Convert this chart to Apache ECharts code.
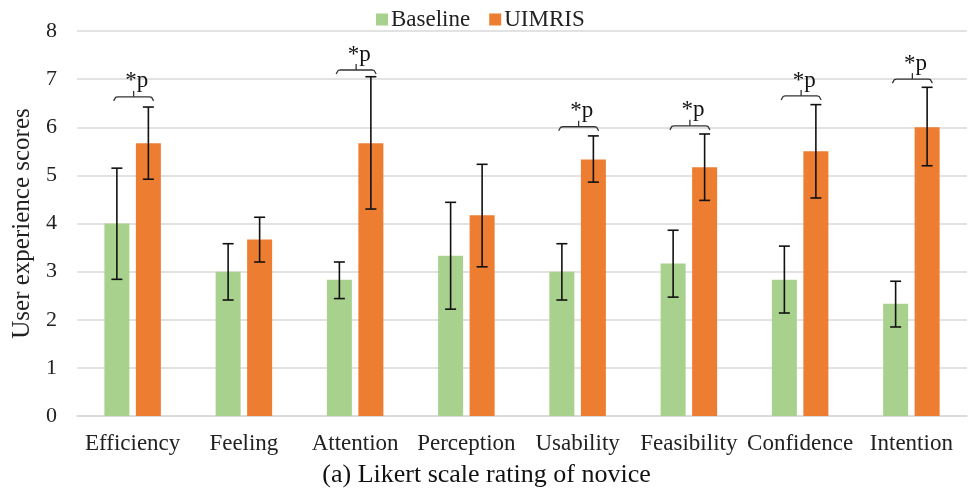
<!DOCTYPE html>
<html>
<head>
<meta charset="utf-8">
<script src="https://cdn.jsdelivr.net/npm/echarts@6/dist/echarts.min.js"></script>
<style>
html,body{margin:0;padding:0;background:#fff;}
#chart{width:973px;height:496px;}
</style>
</head>
<body>
<div id="chart"></div>
<script>
var categories = ['Efficiency','Feeling','Attention','Perception','Usability','Feasibility','Confidence','Intention'];
var baseline = [4.0, 3.0, 2.83, 3.33, 3.0, 3.17, 2.83, 2.33];
var baselineLow = [2.84, 2.41, 2.44, 2.22, 2.41, 2.47, 2.14, 1.85];
var baselineHigh = [5.15, 3.58, 3.2, 4.44, 3.58, 3.86, 3.53, 2.8];
var uimris = [5.67, 3.67, 5.67, 4.17, 5.33, 5.17, 5.5, 6.0];
var uimrisLow = [4.92, 3.2, 4.3, 3.1, 4.86, 4.48, 4.53, 5.2];
var uimrisHigh = [6.42, 4.13, 7.05, 5.23, 5.82, 5.86, 6.47, 6.83];
var bracketLevel = [6.63, null, 7.19, null, 6.01, 6.03, 6.65, 7.0];
var yTicks = [0,1,2,3,4,5,6,7,8];

var FONT = '"Liberation Serif", "Times New Roman", serif';
var GREEN = '#A9D18E', ORANGE = '#ED7D31';
var OFF = 15.75;

function errData(low, high){
  return categories.map(function(c,i){ return [i, low[i], high[i]]; });
}
function errRender(offset){
  return function(params, api){
    var i = api.value(0);
    var lo = api.coord([i, api.value(1)]);
    var hi = api.coord([i, api.value(2)]);
    var x = lo[0] + offset;
    var cap = 5.5;
    var st = {stroke:'#111', lineWidth:1.6, fill:null};
    return {type:'group', children:[
      {type:'line', shape:{x1:x,y1:hi[1],x2:x,y2:lo[1]}, style:st},
      {type:'line', shape:{x1:x-cap,y1:hi[1],x2:x+cap,y2:hi[1]}, style:st},
      {type:'line', shape:{x1:x-cap,y1:lo[1],x2:x+cap,y2:lo[1]}, style:st}
    ]};
  };
}
var bracketData = [];
bracketLevel.forEach(function(v,i){ if(v!==null) bracketData.push([i, v]); });

var option = {
  animation:false,
  backgroundColor:'#fff',
  textStyle:{fontFamily:FONT},
  legend:{
    top:3, left:371,
    itemWidth:12, itemHeight:12, itemGap:19,
    icon:'rect',
    textStyle:{fontFamily:FONT, fontSize:23, color:'#222', padding:[0,0,0,-2]},
    data:['Baseline','UIMRIS']
  },
  grid:{left:77, right:6, top:31, bottom:80},
  xAxis:{
    type:'category', data:categories,
    axisLine:{show:true, lineStyle:{color:'#D9D9D9', width:1.5}},
    axisTick:{show:false},
    axisLabel:{fontFamily:FONT, fontSize:23, color:'#222', margin:16, interval:0}
  },
  yAxis:{
    type:'value', min:0, max:8, interval:1,
    name:'User experience scores', nameLocation:'middle', nameGap:40,
    nameTextStyle:{fontFamily:FONT, fontSize:25, color:'#222'},
    axisLine:{show:false}, axisTick:{show:false},
    axisLabel:{fontFamily:FONT, fontSize:22, color:'#222', margin:20,
      formatter:function(v){ return yTicks.indexOf(v)>=0 ? String(v) : ''; }},
    splitLine:{lineStyle:{color:'#D9D9D9', width:1.5}}
  },
  graphic:[{
    type:'text', left:'center', top:462,
    style:{text:'(a) Likert scale rating of novice', font:'26px "Liberation Serif", serif', fill:'#111'}
  }],
  series:[
    {name:'Baseline', type:'bar', data:baseline, barWidth:25, barGap:'26%', itemStyle:{color:GREEN}},
    {name:'UIMRIS', type:'bar', data:uimris, barWidth:25, barGap:'26%', itemStyle:{color:ORANGE}},
    {type:'custom', data:errData(baselineLow, baselineHigh), renderItem:errRender(-OFF), z:5, silent:true},
    {type:'custom', data:errData(uimrisLow, uimrisHigh), renderItem:errRender(OFF), z:5, silent:true},
    {type:'custom', data:bracketData, z:6, silent:true,
      renderItem:function(params, api){
        var p = api.coord([api.value(0), api.value(1)]);
        var xc = p[0]+1, y = p[1];
        var x1 = xc - 20, x2 = xc + 20;
        var st = {stroke:'#333', lineWidth:1.3, fill:null};
        return {type:'group', children:[
          {type:'polyline', shape:{points:[[x1,y+4],[x1+2,y+0.5],[x1+4,y],[x2-4,y],[x2-2,y+0.5],[x2,y+4]]}, style:st},
          {type:'line', shape:{x1:xc,y1:y,x2:xc,y2:y-6}, style:st},
          {type:'text', style:{text:'*p', x:xc+3, y:y-4, align:'center', verticalAlign:'bottom',
            font:'23px "Liberation Serif", serif', fill:'#111'}}
        ]};
      }
    }
  ]
};
var chart = echarts.init(document.getElementById('chart'), null, {renderer:'canvas'});
chart.setOption(option);
</script>
</body>
</html>
